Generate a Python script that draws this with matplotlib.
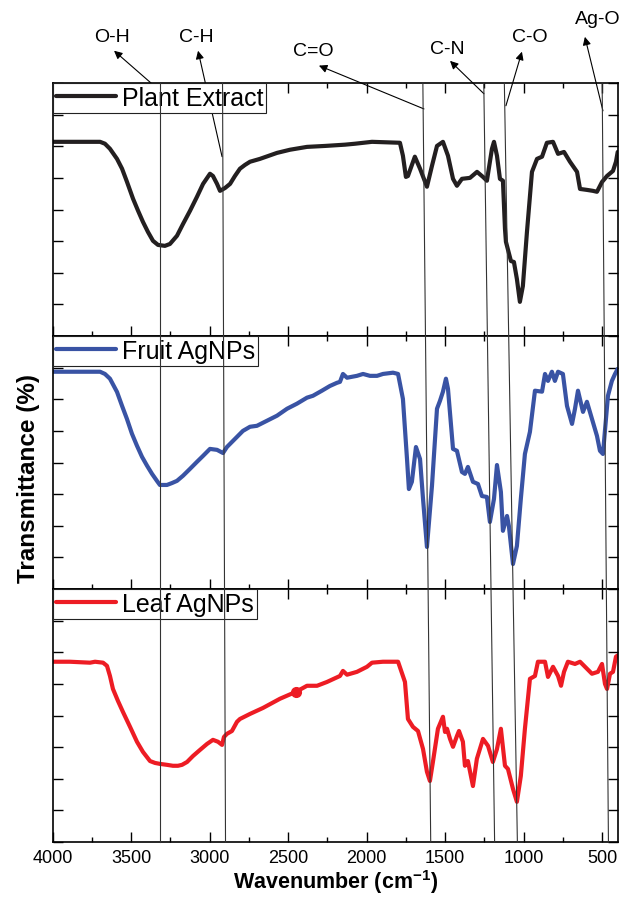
import matplotlib
matplotlib.use('Agg')
import matplotlib.pyplot as plt
from matplotlib.lines import Line2D
from matplotlib.ticker import MultipleLocator
import matplotlib.transforms as mtransforms

plt.rcParams['font.family'] = ['Liberation Sans', 'DejaVu Sans']
plt.rcParams['mathtext.fontset'] = 'custom'
plt.rcParams['mathtext.rm'] = 'Liberation Sans'
plt.rcParams['mathtext.bf'] = 'Liberation Sans:bold'

# ---------------- data ----------------
plant_wn = [3997, 3697, 3666, 3634, 3589, 3557, 3526, 3487, 3455, 3424, 3392, 3360, 3328, 3284,
            3252, 3207, 3169, 3124, 3080, 3041, 2997, 2978, 2952, 2933, 2901, 2869, 2838, 2806,
            2774, 2742, 2679, 2570, 2487, 2379, 2264, 2137, 2073, 1965,
            1787, 1768, 1749, 1736, 1692, 1659, 1615, 1583, 1551, 1513,
            1481, 1449, 1424, 1392, 1341, 1296, 1258, 1233, 1201, 1188, 1169, 1150, 1131, 1118,
            1112, 1080, 1061, 1042, 1023, 1004, 978, 946, 914, 882, 851, 812, 780, 742, 704, 659,
            640, 596, 558, 532, 500, 468, 430, 411, 400]
plant_t = [61.4, 61.4, 60.8, 59.2, 56.0, 52.9, 48.8, 43.4, 39.6, 36.1, 32.9, 30.1, 28.8, 28.5,
           29.1, 31.7, 35.4, 39.6, 44.0, 48.1, 51.3, 50.6, 48.1, 45.9, 46.8, 48.1, 50.6, 52.9,
           54.1, 55.1, 56.0, 57.9, 58.9, 59.8, 60.1, 60.5, 60.8, 61.4,
           61.1, 57.0, 50.3, 50.6, 56.7, 52.9, 47.2, 53.8, 60.1, 61.4,
           57.0, 49.7, 47.5, 49.7, 50.0, 51.9, 50.3, 49.1, 59.2, 61.4, 57.0, 49.7, 49.1, 33.9,
           29.8, 23.7, 23.4, 18.0, 10.8, 15.8, 32.9, 51.9, 56.0, 56.7, 61.1, 61.4, 57.6, 58.2, 55.1, 51.9,
           46.5, 46.2, 45.9, 45.6, 48.7, 50.6, 52.2, 55.1, 58.2]

fruit_wn = [3997, 3697, 3666, 3634, 3589, 3557, 3526, 3494, 3462, 3430, 3398, 3366, 3335, 3316,
            3271, 3239, 3207, 3169, 3124, 3080, 3041, 2997, 2952, 2914, 2889, 2869, 2825, 2787,
            2742, 2698, 2634, 2570, 2506, 2443, 2379, 2341, 2284, 2233, 2188, 2169, 2150, 2124,
            2093, 2061, 2022, 1978, 1933, 1895, 1831,
            1799, 1768, 1742, 1730, 1711, 1685, 1659, 1640, 1615, 1583, 1551, 1532, 1513,
            1494, 1481, 1449, 1424, 1392, 1373, 1354, 1322, 1290, 1265, 1233, 1214, 1188, 1169,
            1144, 1131, 1105, 1093, 1067, 1042, 1017, 991, 959, 927, 882, 863, 844, 819, 800,
            780, 749, 723, 691, 672, 653, 621, 596, 564, 532, 513, 494, 462, 437, 417, 400]
fruit_t = [68.7, 68.7, 68.0, 66.5, 62.3, 57.9, 53.8, 49.1, 45.3, 41.8, 39.0, 36.4, 34.2, 32.9,
           32.9, 33.5, 34.2, 35.8, 38.0, 40.2, 42.1, 44.3, 44.0, 43.0, 44.9, 45.9, 48.1, 50.0,
           51.3, 51.6, 53.2, 54.8, 57.0, 58.6, 60.5, 61.1, 62.7, 64.2, 65.2, 65.5, 68.0, 66.8,
           67.1, 67.4, 68.0, 67.4, 67.4, 68.0, 68.4,
           68.0, 60.1, 41.1, 31.6, 33.9, 44.9, 41.1, 28.5, 13.3, 32.6, 57.0, 59.5, 62.4,
           66.5, 63.3, 44.3, 43.7, 37.0, 36.4, 38.6, 33.9, 33.2, 29.4, 29.1, 21.2, 28.5, 39.2,
           30.7, 18.4, 23.1, 19.9, 7.9, 13.6, 28.5, 42.7, 49.7, 62.7, 62.4, 68.0, 65.8, 68.7, 65.8,
           68.7, 68.0, 57.9, 52.2, 57.0, 62.7, 56.0, 59.2, 53.8, 48.4, 43.7, 42.7, 61.1, 65.8, 68.0, 69.6]

leaf_wn = [3997, 3889, 3761, 3729, 3678, 3653, 3634, 3615, 3583, 3551, 3506, 3462, 3424, 3379,
           3347, 3316, 3271, 3233, 3201, 3175, 3143, 3105, 3061, 3016, 2978, 2946, 2920, 2908,
           2889, 2857, 2825, 2806, 2742, 2659, 2551, 2449, 2379, 2315, 2252,
           2169, 2150, 2124, 2061, 1997, 1965, 1895, 1799, 1768, 1755, 1736, 1704, 1672, 1640,
           1615, 1596, 1577, 1545, 1513, 1500, 1487, 1468, 1449, 1424, 1411, 1386, 1373, 1354,
           1322, 1297, 1258, 1226, 1195, 1169, 1144, 1118, 1099, 1067, 1042, 1017, 991, 959, 927,
           908, 863, 844, 812, 780, 761, 742, 717, 672, 640, 596, 564, 526, 500, 481, 468, 449,
           430, 411, 400]
leaf_t = [57.0, 57.0, 56.7, 57.0, 56.7, 55.7, 52.5, 48.4, 44.6, 41.1, 36.4, 31.7, 28.5, 25.6,
          25.0, 24.7, 24.4, 24.1, 24.1, 24.4, 25.3, 27.2, 29.1, 31.0, 32.3, 31.7, 30.7, 33.2,
          34.2, 35.1, 38.0, 38.9, 40.5, 42.4, 45.3, 47.5, 49.4, 49.4, 50.6,
          52.5, 54.1, 52.9, 53.8, 55.4, 56.7, 57.0, 57.0, 52.5, 50.6, 38.9, 36.4, 35.1, 29.4,
          22.2, 19.3, 25.3, 35.8, 39.6, 34.8, 35.8, 32.6, 30.1, 33.5, 35.1, 31.7, 24.1, 25.6,
          17.7, 26.3, 32.6, 30.4, 25.3, 29.4, 35.8, 24.1, 23.1, 16.8, 12.7, 20.9, 35.8, 51.6, 52.5,
          57.0, 57.0, 52.2, 55.4, 52.5, 49.4, 53.8, 57.0, 56.3, 57.0, 54.8, 53.2, 53.8, 56.3, 50.0,
          48.4, 53.2, 53.8, 58.6, 59.0]
leaf_dot_wn = [2449]
leaf_dot_t = [47.5]

series_names = ['Plant Extract', 'Fruit AgNPs', 'Leaf AgNPs']
series_colors = ['#231f20', '#3953a4', '#ed1c24']

# band assignment lines: wavenumber at top of top panel / bottom of bottom panel
band_labels = ['O-H', 'C-H', 'C=O', 'C-N', 'C-O', 'Ag-O']
band_wn_top = [3315, 2917, 1641, 1253, 1122, 499]
band_wn_bottom = [3315, 2898, 1591, 1184, 1039, 459]

# ---------------- figure ----------------
fig = plt.figure(figsize=(6.26, 9.03), dpi=100)
L, W = 52.5 / 626, (617.7 - 52.5) / 626
H = 253 / 903
bottoms = [1 - 337 / 903, 1 - 590 / 903, 1 - 843 / 903]
axes = [fig.add_axes([L, b, W, H]) for b in bottoms]

data = [(plant_wn, plant_t), (fruit_wn, fruit_t), (leaf_wn, leaf_t)]
for i, ax in enumerate(axes):
    wn, t = data[i]
    ax.plot(wn, t, color=series_colors[i], lw=3.0, solid_joinstyle='round',
            solid_capstyle='round', label=series_names[i])
    ax.set_xlim(4000, 400)
    ax.set_ylim(0, 80)
    ax.xaxis.set_major_locator(MultipleLocator(500))
    ax.xaxis.set_minor_locator(MultipleLocator(250))
    ax.yaxis.set_major_locator(MultipleLocator(10))
    ax.tick_params(which='both', direction='in', top=True, bottom=True, left=True, right=True,
                   width=1.0, labelleft=False, labelbottom=(i == 2))
    ax.tick_params(which='major', length=7)
    ax.tick_params(which='minor', length=3.5)
    ax.tick_params(axis='x', labelsize=13, pad=5)
    for s in ax.spines.values():
        s.set_linewidth(1.2)
    leg = ax.legend(loc='upper left', borderaxespad=0, fancybox=False, edgecolor='#222222',
                    framealpha=1, fontsize=18, handlelength=2.4, handletextpad=0.25,
                    borderpad=0.12)
    leg.get_frame().set_linewidth(0.8)

axes[2].plot(leaf_dot_wn, leaf_dot_t, 'o', color=series_colors[2], ms=7)

axes[2].set_xlabel('Wavenumber (cm$^{\\mathbf{-1}}$)', fontsize=15.5, fontweight='bold', labelpad=1)
fig.text(0.045, 0.47, 'Transmittance (%)', rotation=90, fontsize=17.5, fontweight='bold',
         ha='center', va='center')

# vertical guide lines through all panels
trans = mtransforms.blended_transform_factory(axes[0].transData, fig.transFigure)
y_top = bottoms[0] + H
y_bot = bottoms[2]
for wt, wb in zip(band_wn_top, band_wn_bottom):
    fig.add_artist(Line2D([wt, wb], [y_top, y_bot], transform=trans, lw=0.8, color='#333333'))

# arrows and labels (top panel data coords)
arrow_tail = [(3315, 77.5), (2920, 56.7), (1634, 71.8), (1252, 76.6), (1112, 72.8), (494, 71.2)]
arrow_tip = [(3608, 90.2), (3073, 90.2), (2303, 85.5), (1468, 87.0), (1010, 89.9), (609, 94.6)]
label_pos = [(3621, 94.6), (3086, 94.6), (2341, 90.2), (1487, 90.8), (959, 94.6), (526, 100.3)]
for lab, tail, tip, pos in zip(band_labels, arrow_tail, arrow_tip, label_pos):
    axes[0].annotate('', xy=tip, xytext=tail, xycoords='data', annotation_clip=False,
                     arrowprops=dict(arrowstyle='-|>', lw=0.8, color='black',
                                     shrinkA=0, shrinkB=0, mutation_scale=12))
    axes[0].text(pos[0], pos[1], lab, ha='center', va='center', fontsize=14, clip_on=False)

fig.savefig('out.png', dpi=100)
